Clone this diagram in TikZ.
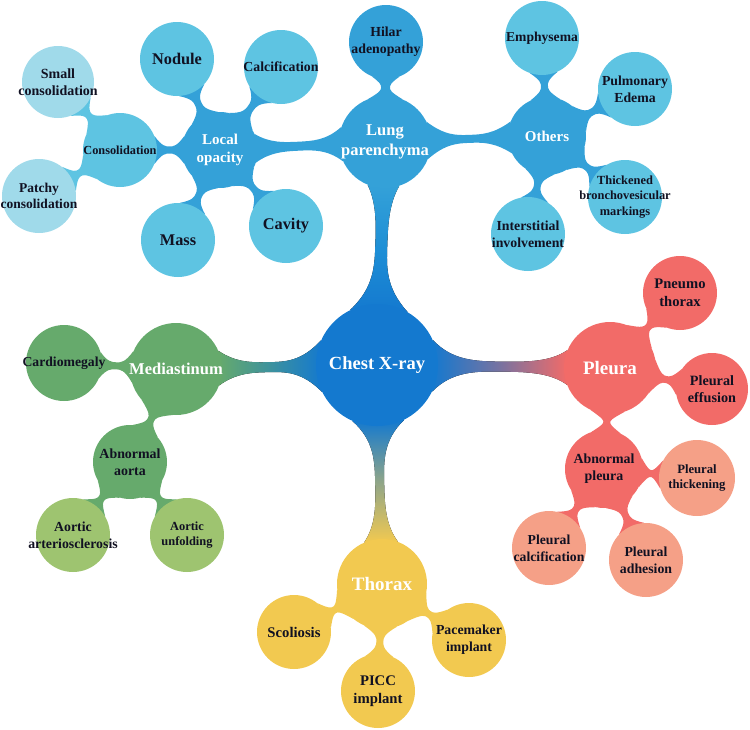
\documentclass[tikz,border=0pt]{standalone}
\usepackage{fontspec}
\setmainfont{Liberation Serif}
\usetikzlibrary{calc}
\pgfdeclarelayer{bg}
\pgfsetlayers{bg,main}
\definecolor{chestblue}{RGB}{20,121,207}
\definecolor{trunkblue}{RGB}{30,143,214}
\definecolor{midblue}{RGB}{52,161,216}
\definecolor{leafblue}{RGB}{94,196,226}
\definecolor{paleblue}{RGB}{160,218,234}
\definecolor{dgreen}{RGB}{102,170,108}
\definecolor{lgreen}{RGB}{158,196,112}
\definecolor{dred}{RGB}{242,107,104}
\definecolor{salmon}{RGB}{245,160,135}
\definecolor{yel}{RGB}{242,201,80}
\definecolor{txt}{RGB}{17,17,34}
\newcommand\fsz[1]{\fontsize{#1}{1.22\dimexpr#1pt\relax}\selectfont\bfseries}
% organic link between two circular nodes:
% #1 style, #2 a, #3 b, #4 angle at a, #5 angle at b, #6 neck half width, #7 flare length
\newcommand\lnk[7][]{%
 \fill[#1] let \p1=($(#3.center)-(#2.center)$), \p2=($(#2.east)-(#2.center)$), \p3=($(#3.east)-(#3.center)$),
   \n1={veclen(\x1,\y1)}, \n2={\x2}, \n3={\x3},
   \n4={\n2+#7}, \n5={\n2+0.5*(\n1-\n2-\n3)}, \n6={\n1-\n3-#7},
   \n7={\n5-0.5*(\n5-\n4)}, \n8={\n5+0.5*(\n6-\n5)} in
   ($(#2.center)!\n2!#4:(#3.center)$)
   .. controls ($(#2.center)!\n4!(#3.center)!#6!90:(#3.center)$) and ($(#2.center)!\n7!(#3.center)!#6!90:(#3.center)$) .. ($(#2.center)!\n5!(#3.center)!#6!90:(#3.center)$)
   .. controls ($(#2.center)!\n8!(#3.center)!#6!90:(#3.center)$) and ($(#2.center)!\n6!(#3.center)!#6!90:(#3.center)$) .. ($(#3.center)!\n3!-#5:(#2.center)$)
   -- ($(#3.center)!\n3!#5:(#2.center)$)
   .. controls ($(#2.center)!\n6!(#3.center)!#6!-90:(#3.center)$) and ($(#2.center)!\n8!(#3.center)!#6!-90:(#3.center)$) .. ($(#2.center)!\n5!(#3.center)!#6!-90:(#3.center)$)
   .. controls ($(#2.center)!\n7!(#3.center)!#6!-90:(#3.center)$) and ($(#2.center)!\n4!(#3.center)!#6!-90:(#3.center)$) .. ($(#2.center)!\n2!-#4:(#3.center)$) -- cycle;}
\newcommand\leaf[3][]{\lnk[#1]{#2}{#3}{22}{22}{3.5pt}{5pt}}
\tikzset{
 bub/.style args={#1/#2}{circle,inner sep=0pt,minimum size=2*#1,fill=#2},
 wt/.style={text=white,align=center,inner sep=0pt},
 dk/.style={text=txt,align=center,inner sep=0pt},
}
\begin{document}
\begin{tikzpicture}[x=1pt,y=-1pt]
\useasboundingbox (0,0) rectangle (750,729);
% main
\node[bub={61pt/chestblue},label={[wt,font=\fsz{18.5}]center:Chest X-ray}] (chest) at (377,365) {};
\node[bub={46pt/midblue},label={[wt,font=\fsz{16.5}]center:Lung\\parenchyma}] (lung) at (385,142) {};
\node[bub={37pt/midblue},label={[dk,font=\fsz{13.8}]center:Hilar\\adenopathy}] (hilar) at (386,42) {};
\node[bub={39pt/midblue},label={[wt,font=\fsz{15}]center:Others}] (others) at (547,136) {};
\node[bub={37pt/leafblue},label={[dk,font=\fsz{13.6}]center:Emphysema}] (emph) at (542,38) {};
\node[bub={37pt/leafblue},label={[dk,font=\fsz{13.8}]center:Pulmonary\\Edema}] (edema) at (635,89) {};
\node[bub={37pt/leafblue},label={[dk,font=\fsz{12.4}]center:Thickened\\bronchovesicular\\markings}] (thick) at (625,197) {};
\node[bub={37pt/leafblue},label={[dk,font=\fsz{13.8}]center:Interstitial\\involvement}] (inter) at (528,234) {};
\node[bub={38pt/midblue},label={[wt,font=\fsz{15}]center:Local\\opacity}] (local) at (220,150) {};
\node[bub={37pt/leafblue},label={[dk,font=\fsz{16.3}]center:Nodule}] (nodule) at (177,59) {};
\node[bub={37pt/leafblue},label={[dk,font=\fsz{13.8}]center:Calcification}] (calc) at (281,67) {};
\node[bub={37pt/leafblue},label={[dk,font=\fsz{12.3}]center:Consolidation}] (consol) at (120,150) {};
\node[bub={36pt/paleblue},label={[dk,font=\fsz{14}]center:Small\\consolidation}] (small) at (58,82) {};
\node[bub={37pt/paleblue},label={[dk,font=\fsz{13.5}]center:Patchy\\consolidation}] (patchy) at (39,196) {};
\node[bub={37pt/leafblue},label={[dk,font=\fsz{16.3}]center:Mass}] (mass) at (178,240) {};
\node[bub={37pt/leafblue},label={[dk,font=\fsz{16.3}]center:Cavity}] (cavity) at (286,226) {};
% mediastinum
\node[bub={46pt/dgreen},label={[wt,font=\fsz{16.5}]center:Mediastinum}] (medi) at (176,369) {};
\node[bub={38pt/dgreen},label={[dk,font=\fsz{13.7}]center:Cardiomegaly}] (cardio) at (64,363) {};
\node[bub={37pt/dgreen},label={[dk,font=\fsz{13.9}]center:Abnormal\\aorta}] (aorta) at (130,462) {};
\node[bub={37pt/lgreen},label={[dk,font=\fsz{13.8}]center:Aortic\\arteriosclerosis}] (arterio) at (73,535) {};
\node[bub={37pt/lgreen},label={[dk,font=\fsz{12.4}]center:Aortic\\unfolding}] (unfold) at (187,535) {};
% pleura
\node[bub={46pt/dred},label={[wt,font=\fsz{19}]center:Pleura}] (pleura) at (610,368) {};
\node[bub={37pt/dred},label={[dk,font=\fsz{14.6}]center:Pneumo\\thorax}] (pneumo) at (680,293) {};
\node[bub={36pt/dred},label={[dk,font=\fsz{14.2}]center:Pleural\\effusion}] (effusion) at (712,389) {};
\node[bub={39pt/dred},label={[dk,font=\fsz{13.9}]center:Abnormal\\pleura}] (abpleura) at (604,469) {};
\node[bub={38pt/salmon},label={[dk,font=\fsz{12.7}]center:Pleural\\thickening}] (thickening) at (697,478) {};
\node[bub={37pt/salmon},label={[dk,font=\fsz{13.7}]center:Pleural\\calcification}] (pcalc) at (549,548) {};
\node[bub={37pt/salmon},label={[dk,font=\fsz{13.8}]center:Pleural\\adhesion}] (adhesion) at (646,560) {};
% thorax
\node[bub={45pt/yel},label={[wt,font=\fsz{19}]center:Thorax}] (thorax) at (382,584) {};
\node[bub={37pt/yel},label={[dk,font=\fsz{14.7}]center:Scoliosis}] (scol) at (294,632) {};
\node[bub={37pt/yel},label={[dk,font=\fsz{14.7}]center:PICC\\implant}] (picc) at (378,691) {};
\node[bub={37pt/yel},label={[dk,font=\fsz{13.8}]center:Pacemaker\\implant}] (pace) at (469,640) {};
\begin{pgfonlayer}{bg}
\lnk[top color=midblue,bottom color=chestblue,middle color=trunkblue]{chest}{lung}{28}{20}{6pt}{16pt}
\lnk[left color=dgreen,right color=chestblue]{chest}{medi}{25}{22}{5pt}{14pt}
\lnk[left color=chestblue,right color=dred,middle color=chestblue!55!dred]{chest}{pleura}{25}{22}{5pt}{14pt}
\lnk[top color=chestblue,bottom color=yel,middle color=chestblue!45!yel]{chest}{thorax}{25}{22}{4.5pt}{14pt}
\lnk[midblue]{lung}{hilar}{22}{22}{4.5pt}{4pt}
\lnk[midblue]{lung}{local}{22}{22}{4.5pt}{12pt}
\lnk[midblue]{lung}{others}{24}{24}{4pt}{14pt}
\leaf[midblue]{others}{emph}
\leaf[midblue]{others}{edema}
\leaf[midblue]{others}{thick}
\leaf[midblue]{others}{inter}
\leaf[midblue]{local}{nodule}
\leaf[midblue]{local}{calc}
\leaf[midblue]{local}{consol}
\leaf[midblue]{local}{mass}
\leaf[midblue]{local}{cavity}
\leaf[leafblue]{consol}{small}
\leaf[leafblue]{consol}{patchy}
\lnk[dgreen]{medi}{cardio}{20}{20}{3.5pt}{5pt}
\leaf[dgreen]{medi}{aorta}
\leaf[dgreen]{aorta}{arterio}
\leaf[dgreen]{aorta}{unfold}
\leaf[dred]{pleura}{pneumo}
\leaf[dred]{pleura}{effusion}
\leaf[dred]{pleura}{abpleura}
\leaf[dred]{abpleura}{thickening}
\leaf[dred]{abpleura}{pcalc}
\leaf[dred]{abpleura}{adhesion}
\leaf[yel]{thorax}{scol}
\leaf[yel]{thorax}{picc}
\leaf[yel]{thorax}{pace}
\end{pgfonlayer}
\end{tikzpicture}
\end{document}
